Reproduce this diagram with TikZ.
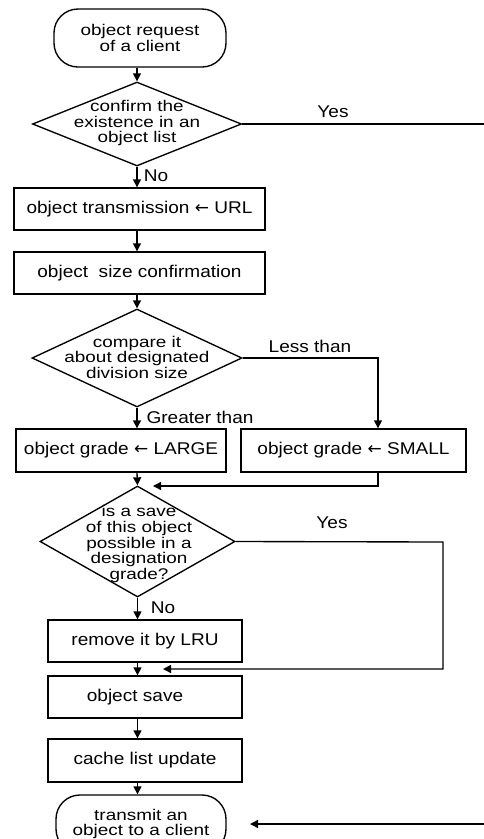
\documentclass[tikz,border=0pt]{standalone}
\usepackage{fontspec}
\setmainfont[FakeStretch=1.12]{Liberation Sans}
\newfontfamily\widefont[FakeStretch=1.22]{Liberation Sans}
\newfontfamily\arrfont{DejaVu Sans}
\usetikzlibrary{shapes.geometric,arrows.meta}
\newcommand{\la}{{\arrfont ←}}
\begin{document}
\begin{tikzpicture}[x=1pt,y=-1pt, line width=1.35pt,
  every node/.style={font=\fontsize{17}{15}\selectfont, inner sep=0pt},
  proc/.style={draw, rectangle, minimum height=42pt},
  term/.style={draw, rectangle, rounded corners=24pt, minimum width=172pt, minimum height=58pt, align=center, font=\widefont\fontsize{15.5}{15.5}\selectfont},
  dec/.style={draw, diamond, inner sep=0pt},
  txt/.style={align=center, font=\widefont\fontsize{15.5}{15.5}\selectfont},
  arr/.style={-{Triangle[length=8pt,width=8pt]}}]
\useasboundingbox (0,0) rectangle (484,839);

% nodes
\node[term] (t1) at (140,38) {object request\\of a client};
\node[dec, minimum width=209pt, minimum height=84pt] (d1) at (137,124) {};
\node[txt] (d1t) at (137,123) {confirm the\\existence in an\\object list};
\node[proc, minimum width=251pt] (b1) at (139.5,209) {object transmission \la\ URL};
\node[proc, minimum width=251pt] (b2) at (139.5,273) {object\ \ size confirmation};
\node[dec, minimum width=210pt, minimum height=98pt] (d2) at (137,358) {};
\node[txt] (d2t) at (137,357) {compare it\\about designated\\division size};
\node[proc, minimum width=210pt, minimum height=43pt] (large) at (121,450.5) {object grade \la\ LARGE};
\node[proc, minimum width=225pt, minimum height=43pt] (small) at (353.5,450.5) {object grade \la\ SMALL};
\node[dec, minimum width=195pt, minimum height=111pt] (d3) at (137.5,541.5) {};
\node[txt, font=\widefont\fontsize{15.5}{15.75}\selectfont] (d3t) at (139,544) {is a save\\of this object\\possible in a\\designation\\grade?};
\node[proc, minimum width=194pt] (lru) at (145,641) {remove it by LRU};
\node[proc, minimum width=194pt] (save) at (145,697) {\hspace*{-20pt}object save};
\node[proc, minimum width=194pt, minimum height=43pt] (cache) at (145,760.5) {cache list update};
\node[term, minimum width=170pt] (t2) at (141,824) {transmit an\\object to a client};

% labels
\node (yes1) at (333,112) {Yes};
\node (no1) at (156,176) {No};
\node (less) at (310,346) {Less than};
\node (gt) at (200,417) {Greater than};
\node (yes2) at (332,523) {Yes};
\node (no2) at (163,608) {No};

% coordinates
\coordinate (e1) at (484,124);
\coordinate (e2) at (484,824);
\coordinate (t2in) at (250,824);
\coordinate (lt) at (378,358);
\coordinate (m1) at (153,486);
\coordinate (yt) at (443,542);
\coordinate (m2) at (163,669);

% connectors
\draw[arr] (t1.south -| d1) -- (d1.north);
\draw (d1.east) -- (e1);
\draw[arr] (d1.south) -- (d1.south |- b1.north);
\draw[arr] (d1.south |- b1.south) -- (d1.south |- b2.north);
\draw[arr] (d1.south |- b2.south) -- (d2.north);
\draw[arr] (d2.east) -- (lt) -- (lt |- small.north);
\draw[arr] (d2.south) -- (d2.south |- large.north);
\draw[arr] (d2.south |- large.south) -- (d3.north);
\draw[arr] (lt |- small.south) -- (lt |- m1) -- (m1);
\draw[arr] (d3.east) -- (yt) -- (yt |- m2) -- (m2);
\draw[arr] (d3.south) -- (d3.south |- lru.north);
\draw[arr] (d3.south |- lru.south) -- (d3.south |- save.north);
\draw[arr] (d3.south |- save.south) -- (d3.south |- cache.north);
\draw[arr] (d3.south |- cache.south) -- (d3.south |- t2.north);
\draw[arr] (e2) -- (t2in);
\end{tikzpicture}
\end{document}
